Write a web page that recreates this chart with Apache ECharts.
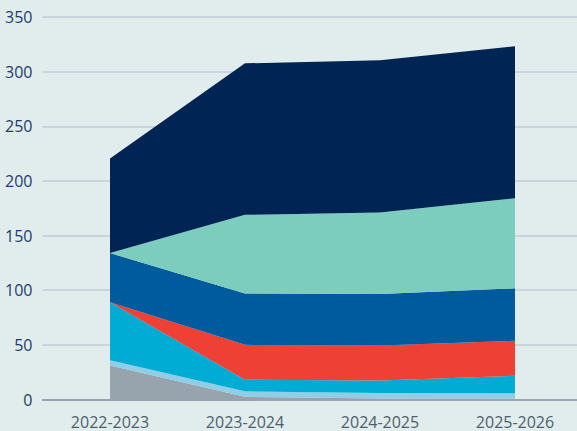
<!DOCTYPE html>
<html>
<head>
<meta charset="utf-8">
<script src="https://cdn.jsdelivr.net/npm/echarts@6/dist/echarts.min.js"></script>
<style>
  html, body { margin: 0; padding: 0; background: #e1edec; }
  #chart { width: 577px; height: 431px; }
</style>
</head>
<body>
<div id="chart"></div>
<script>
(function() {
  var categories = ['2022-2023', '2023-2024', '2024-2025', '2025-2026'];
  var yTicks = [0, 50, 100, 150, 200, 250, 300, 350];

  // stacked from the bottom up
  var grey = [31, 2.5, 1, 1];
  var lightBlue = [5, 5, 5, 4.7];
  var cyan = [53, 10.5, 11.5, 16];
  var red = [0, 32, 32, 32];
  var blue = [45, 47, 47, 48];
  var teal = [0, 72, 74.5, 82.5];
  var navy = [86.5, 138.6, 139.5, 139];

  var layers = [
    { data: grey, color: '#98a4ad' },
    { data: lightBlue, color: '#90cde6' },
    { data: cyan, color: '#00abd4' },
    { data: red, color: '#ef4035' },
    { data: blue, color: '#005a9e' },
    { data: teal, color: '#7ccdbd' },
    { data: navy, color: '#002554' }
  ];

  var chart = echarts.init(document.getElementById('chart'), null, { renderer: 'svg' });

  chart.setOption({
    animation: false,
    backgroundColor: '#e1edec',
    grid: { left: 42.5, width: 540, top: 17, bottom: 31.5, outerBoundsMode: 'none', containLabel: false },
    xAxis: {
      type: 'category',
      data: categories,
      boundaryGap: true,
      axisTick: { show: false },
      axisLine: { lineStyle: { color: '#8495a6', width: 1.5 } },
      axisLabel: { color: '#4e5d6c', fontSize: 16, fontFamily: 'Open Sans', margin: 14 }
    },
    yAxis: {
      type: 'value',
      min: yTicks[0],
      max: yTicks[yTicks.length - 1],
      interval: 50,
      axisLine: { show: false },
      axisTick: { show: false },
      axisLabel: { color: '#1d3b6e', fontSize: 16, fontFamily: 'Open Sans', margin: 10 },
      splitLine: { lineStyle: { color: '#c3cad9', width: 1.5 } }
    },
    series: layers.map(function(l, i) {
      return {
        name: 's' + i,
        type: 'line',
        stack: 'total',
        data: l.data,
        showSymbol: false,
        symbol: 'none',
        lineStyle: { width: 0 },
        areaStyle: { color: l.color, opacity: 1 },
        itemStyle: { color: l.color }
      };
    })
  });

  window.addEventListener('resize', function() { chart.resize(); });
})();
</script>
</body>
</html>
